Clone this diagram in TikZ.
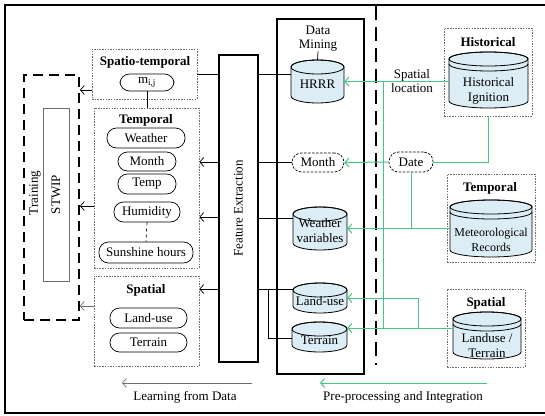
\documentclass[tikz,border=0pt]{standalone}
\usepackage{fontspec}
\setmainfont{Liberation Serif}
\usetikzlibrary{arrows.meta,calc}
\definecolor{grn}{RGB}{70,196,128}
\definecolor{cylfill}{RGB}{220,237,245}
\definecolor{dgray}{RGB}{110,110,110}
\tikzset{
 every node/.style={font=\fontsize{13}{15}\selectfont},
 pill/.style={draw, rounded corners=9.5pt, inner sep=0pt, line width=0.7pt},
 dpill/.style={pill, dash pattern=on 2.5pt off 1.5pt},
 dbox/.style={draw=dgray, dash pattern=on 1.5pt off 1.2pt, line width=0.7pt, inner sep=0pt},
 ttl/.style={font=\fontsize{13}{15}\selectfont\bfseries},
 conn/.style={line width=0.7pt},
 arr/.style={conn, -{Straight Barb[length=4pt,width=9pt]}},
 garr/.style={grn, line width=1pt, -{Straight Barb[length=4pt,width=9pt]}},
 gline/.style={grn, line width=1pt},
}
% #1 name, #2 cx, #3 ytop, #4 w, #5 ybot, #6 ry, #7 text y, #8 text
\newcommand{\mycyl}[8]{%
 \path[fill=cylfill,draw,line width=0.8pt] (#2-#4/2,#3+#6) -- (#2-#4/2,#5-#6) arc(180:0:#4/2 and #6) -- (#2+#4/2,#3+#6) arc(0:-180:#4/2 and #6) -- cycle;
 \draw[line width=0.8pt] (#2,#3+#6) ellipse (#4/2 and #6);
 \node[inner sep=0pt, minimum width=#4pt, minimum height=#5pt-#3pt] (#1) at (#2,{(#3+#5)/2}) {};
 \node[align=center, inner sep=0pt] (#1t) at (#2,#7) {#8};
}
\newcommand{\mydcyl}[8]{%
 \mycyl{#1}{#2}{#3}{#4}{#5}{#6}{#7}{#8}%
 \draw[line width=0.8pt] (#2-#4/2,#3+#6+5) arc(180:0:#4/2 and #6);
}
\begin{document}
\begin{tikzpicture}[x=1pt,y=-1pt]
\useasboundingbox (0,0) rectangle (545,415);
\clip (0,0) rectangle (545,415);
% outer frame
\draw[line width=2.5pt] (550,5) -- (5,5) -- (5,413) -- (550,413);
% divider
\draw[line width=2pt, dash pattern=on 14pt off 7pt] (376,6) -- (376,365);

% training
\node[draw, line width=1.8pt, dash pattern=on 10pt off 6pt, minimum width=55pt, minimum height=245pt, inner sep=0pt] (train) at (51.5,197.5) {};
\node[draw=dgray, line width=0.8pt, minimum width=26pt, minimum height=173pt, inner sep=0pt] (stwip) at (56,194.5) {};
\node[rotate=90] (stwipt) at (stwip) {STWIP};
\node[rotate=90] (traint) at (35,193) {Training};

% left feature boxes
\node[dbox, minimum width=105pt, minimum height=50pt] (stbox) at (144.5,74) {};
\node[ttl] (sttl) at (145,62) {Spatio-temporal};
\node[pill, minimum width=54pt, minimum height=17pt] (mij) at (147,82.5) {m\textsubscript{i,j}};

\node[dbox, minimum width=105pt, minimum height=160pt] (tbox) at (146.5,188) {};
\node[ttl] (tttl) at (146,120) {Temporal};
\node[pill, minimum width=78pt, minimum height=20pt] (pweather) at (146,138) {Weather};
\node[pill, minimum width=58pt, minimum height=19pt] (pmonth) at (147,161.5) {Month};
\node[pill, minimum width=58pt, minimum height=20pt] (ptemp) at (147,184) {Temp};
\node[pill, minimum width=66pt, minimum height=20pt] (phum) at (147,212) {Humidity};
\node[pill, minimum width=94pt, minimum height=21pt] (psun) at (146,252.5) {Sunshine hours};

\node[dbox, minimum width=105pt, minimum height=90pt] (sbox) at (146.5,321) {};
\node[ttl] (sttl2) at (146,290) {Spatial};
\node[pill, minimum width=77pt, minimum height=20pt] (pland) at (148.5,318) {Land-use};
\node[pill, minimum width=77pt, minimum height=19pt] (pterr) at (148.5,342.5) {Terrain};

\draw[conn] (mij.south) -- (tbox.north -| mij.south);
\draw[conn, dashed] (phum.south) -- (psun.north);

% arrows into training
\draw[arr] (stbox.west |- 0,90) -- (train.east |- 0,90);
\draw[arr] (tbox.west |- 0,206) -- (train.east |- 0,206);
\draw[arr, dgray] (sbox.west |- 0,306) -- (train.east |- 0,306);

% Data mining
\node[draw, line width=1.8pt, minimum width=87pt, minimum height=355pt, inner sep=0pt] (dm) at (320.5,196.5) {};
\node[align=center, inner sep=0pt] (dmt) at (318,38.5) {Data\\[-1pt]Mining};
\mycyl{hrrr}{317.5}{60}{53}{103}{7}{84}{HRRR}
\draw[conn] (dmt.south) -- (hrrr.north);
\node[dpill, minimum width=52pt, minimum height=19pt] (dmmonth) at (318,162.5) {Month};
\mycyl{wcyl}{320}{207}{54}{250}{7}{231}{Weather\\[0pt]variables}
\mycyl{lcyl}{320}{283}{54}{313}{7}{301}{Land-use}
\mycyl{tcyl}{319.5}{322}{55}{352}{7}{340}{Terrain}

% lines from data mining into feature extraction
\coordinate (tj) at (268,289);
\draw[conn] (hrrr.west |- stbox.east) -- (stbox.east);
\draw[conn] (dmmonth.west) -- (240,162.5);
\draw[conn] (wcyl.west |- 0,218) -- (240,218);
\draw[conn] (lcyl.west |- 0,289) -- (240,289);
\draw[conn] (tj) -- (tj |- 0,338) -- (tcyl.west |- 0,338);

% feature extraction
\node[draw, line width=1.8pt, fill=white, minimum width=39pt, minimum height=307pt, inner sep=0pt] (fe) at (238.5,208.5) {};
\node[rotate=90] (fet) at (fe) {Feature Extraction};
\draw[arr] (fe.west |- 0,162) -- (tbox.east |- 0,162);
\draw[arr] (fe.west |- 0,217) -- (tbox.east |- 0,217);
\draw[arr] (fe.west |- 0,289) -- (sbox.east |- 0,289);

% right boxes
\node[dbox, minimum width=88pt, minimum height=88pt] (histbox) at (488,72) {};
\node[ttl] (histttl) at (488,42) {Historical};
\mydcyl{histcyl}{488.5}{52}{79}{108}{7}{91}{Historical\\[0pt]Ignition}

\node[dbox, minimum width=88pt, minimum height=88pt] (tempbox) at (491,218) {};
\node[ttl] (tempttl) at (490,188) {Temporal};
\mydcyl{metcyl}{491}{200}{82}{257}{7}{240}{\fontsize{12}{14}\selectfont Meteorological\\[0pt]\fontsize{12}{14}\selectfont Records}

\node[dbox, minimum width=78pt, minimum height=78pt] (spbox) at (486,328) {};
\node[ttl] (spttl) at (486,303) {Spatial};
\mydcyl{lucyl}{487}{312}{68}{359}{7}{346}{Landuse /\\[0pt]Terrain}

% green connectors
\node[align=center, inner sep=0pt] (sploc) at (412,81.5) {Spatial\\[-1pt]location};
\node[dpill, minimum width=44pt, minimum height=20pt] (date) at (411,162) {Date};
\coordinate (vt) at (383,81.5);
\coordinate (vb) at (383,328);
\coordinate (j2) at (418,328);
\draw[gline] (vt) -- (vb);
\draw[garr] (histcyl.west |- hrrr.east) -- (hrrr.east);
\draw[gline] (histbox.south) -- (histbox.south |- date.east) -- (date.east);
\draw[garr] (date.west) -- (dmmonth.east);
\draw[gline] (date.south) -- (date.south |- wcyl.east);
\draw[garr] (metcyl.west) -- (wcyl.east);
\draw[garr] (lucyl.west |- 0,328) -- (tcyl.east |- 0,328);
\draw[garr] (j2) -- (j2 |- 0,298) -- (lcyl.east |- 0,298);

% bottom arrows
\coordinate (la1) at (252,383);
\coordinate (la2) at (122,383);
\draw[arr, dgray] (la1) -- (la2);
\node (lt) at (185,397) {Learning from Data};
\coordinate (pa1) at (487,383);
\coordinate (pa2) at (320,383);
\draw[garr] (pa1) -- (pa2);
\node (pt) at (403,397) {Pre-processing and Integration};
\end{tikzpicture}
\end{document}
